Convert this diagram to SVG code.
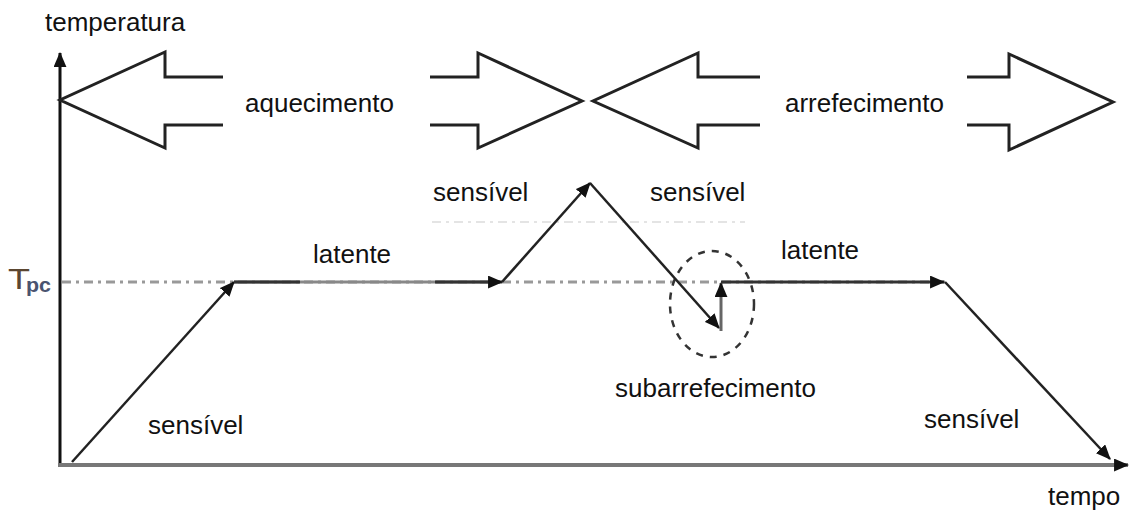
<svg xmlns="http://www.w3.org/2000/svg" width="1129" height="512" viewBox="0 0 1129 512">
  <style>
    .lbl { font-family: "Liberation Sans", Arial, sans-serif; font-size: 26px; fill: #111; }
    .big { fill: none; stroke: #222; stroke-width: 3; stroke-linejoin: miter; }
    .path { stroke: #222; stroke-width: 2.5; fill: none; }
    .ref { stroke: #999; stroke-width: 3; stroke-dasharray: 9 5 3 5; fill: none; }
  </style>
  <defs>
    <marker id="head" viewBox="0 0 14 12" refX="13" refY="6" markerWidth="15" markerHeight="13" markerUnits="userSpaceOnUse" orient="auto">
      <path d="M0,0 L14,6 L0,12 z" fill="#111"/>
    </marker>
  </defs>
  <rect width="1129" height="512" fill="#fff"/>

  <!-- reference lines: phase-change temperature and a faint upper level -->
  <g id="reference-lines">
    <line class="ref" x1="62" y1="282" x2="945" y2="282"/>
    <line x1="432" y1="222" x2="745" y2="222" stroke="#e4e4e4" stroke-width="2" stroke-dasharray="9 5 3 5"/>
  </g>

  <!-- axes -->
  <g id="axes">
    <line x1="60" y1="466" x2="60" y2="53" stroke="#111" stroke-width="3" marker-end="url(#head)"/>
    <line x1="58" y1="465" x2="1128" y2="465" stroke="#777" stroke-width="4" marker-end="url(#head)"/>
    <text class="lbl" x="45" y="31">temperatura</text>
    <text class="lbl" x="1048" y="505">tempo</text>
    <text x="8" y="289" font-family="Liberation Sans, Arial, sans-serif" font-size="30" fill="#5b4630" textLength="22" lengthAdjust="spacingAndGlyphs">T</text>
    <text x="26" y="292" font-family="Liberation Sans, Arial, sans-serif" font-size="20" font-weight="bold" fill="#4a5470" textLength="25" lengthAdjust="spacingAndGlyphs">pc</text>
  </g>

  <!-- heating / cooling block arrows -->
  <g id="heating">
    <polyline class="big" points="223,77 165,77 165,52 60,100 165,148 165,125 223,125"/>
    <polyline class="big" points="430,77 478,77 478,53 582,101 478,148 478,125 430,125"/>
    <text class="lbl" x="245" y="112">aquecimento</text>
  </g>
  <g id="cooling">
    <polyline class="big" points="760,77 698,77 698,53 593,101 698,148 698,125 760,125"/>
    <polyline class="big" points="967,77 1009,77 1009,54 1113,102 1009,150 1009,125 967,125"/>
    <text class="lbl" x="785" y="112">arrefecimento</text>
  </g>

  <!-- supercooling region -->
  <g id="supercooling">
    <ellipse cx="712" cy="304" rx="42" ry="53" fill="none" stroke="#333" stroke-width="2.5" stroke-dasharray="7 7"/>
    <text class="lbl" x="615" y="397">subarrefecimento</text>
  </g>

  <!-- temperature history -->
  <g id="connectors">
    <line class="path" x1="72" y1="462" x2="234" y2="282" marker-end="url(#head)"/>
    <line x1="234" y1="282" x2="500" y2="282" stroke="#888" stroke-width="3"/>
    <line x1="234" y1="282" x2="300" y2="282" stroke="#333" stroke-width="3"/>
    <line x1="435" y1="282" x2="502" y2="282" stroke="#333" stroke-width="3" marker-end="url(#head)"/>
    <line class="path" x1="502" y1="282" x2="590" y2="183" marker-end="url(#head)"/>
    <line class="path" x1="590" y1="183" x2="719" y2="328" marker-end="url(#head)"/>
    <line x1="721" y1="331" x2="721" y2="283" stroke="#666" stroke-width="3" marker-end="url(#head)"/>
    <line x1="721" y1="282" x2="944" y2="282" stroke="#333" stroke-width="3" marker-end="url(#head)"/>
    <line class="path" x1="945" y1="282" x2="1110" y2="459" marker-end="url(#head)"/>
  </g>

  <!-- phase labels -->
  <g id="labels">
    <text class="lbl" x="148" y="434">sensível</text>
    <text class="lbl" x="313" y="263">latente</text>
    <text class="lbl" x="433" y="201">sensível</text>
    <text class="lbl" x="650" y="201">sensível</text>
    <text class="lbl" x="781" y="259">latente</text>
    <text class="lbl" x="924" y="428">sensível</text>
  </g>
</svg>
